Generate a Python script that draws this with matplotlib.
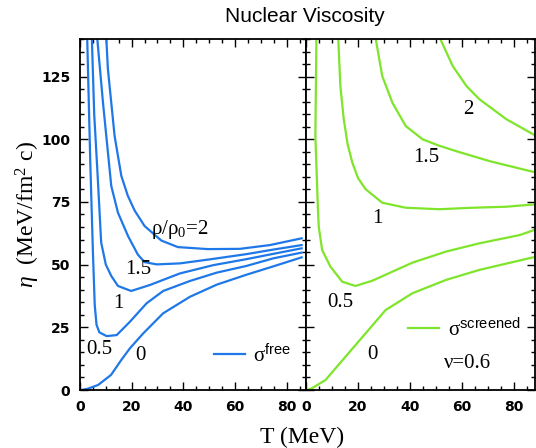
import matplotlib
matplotlib.use('Agg')
import matplotlib.pyplot as plt
from matplotlib.ticker import MultipleLocator

BLUE = '#1f78e8'
GREEN = '#7ee52a'

plt.rcParams['mathtext.fontset'] = 'custom'
plt.rcParams['mathtext.rm'] = 'Liberation Serif'
plt.rcParams['mathtext.it'] = 'Liberation Serif:italic'
plt.rcParams['mathtext.sf'] = 'Liberation Sans'

# free cross section, rho/rho0 = 0, 0.5, 1, 1.5, 2
free_T_0 = [0.5, 3, 7, 12, 16, 19.3, 24.5, 32.2, 42.6, 52.9, 64.5, 74.8, 85.8]
free_eta_0 = [0, 0.5, 2.0, 6.0, 12.0, 16.6, 22.6, 30.6, 37.2, 42.0, 46.0, 49.3, 52.9]
free_T_05 = [2.8, 4.0, 5.0, 5.7, 6.4, 7.5, 10.3, 14.2, 19.3, 25.8, 32.2, 42.6, 52.9, 64.5, 74.8, 85.8]
free_eta_05 = [140, 90, 55, 34, 26, 23, 21.5, 21.9, 27.2, 34.6, 39.5, 43.5, 46.8, 49.5, 52.5, 54.8]
free_T_1 = [4.6, 5.5, 6.7, 8.2, 10, 12.1, 14.7, 19.8, 27.1, 38.7, 51.6, 64.5, 74.8, 85.8]
free_eta_1 = [140, 110, 88, 58.8, 50, 45.5, 41.5, 39.5, 41.9, 46.5, 49.8, 52.2, 54.3, 56.5]
free_T_15 = [6.7, 8.9, 12.1, 14.7, 18.6, 22.4, 25.0, 29.7, 38.7, 51.6, 64.5, 74.8, 85.8]
free_eta_15 = [140, 114.6, 81.4, 70.7, 61.4, 54, 51, 50.1, 50.5, 52.3, 54.2, 56, 57.8]
free_T_2 = [10.2, 10.8, 13.4, 16.0, 18.5, 21.2, 25.0, 31.5, 37.9, 49.5, 61.9, 73.5, 85.8]
free_eta_2 = [140, 128, 101.3, 85.4, 77.5, 71.5, 65.4, 59.6, 57.0, 56.2, 56.3, 57.8, 60.5]

# screened cross section, nu = 0.6
scr_T_0 = [0.4, 2.3, 7.5, 15.2, 22.9, 30.6, 40.9, 53.8, 66.6, 88.5]
scr_eta_0 = [0, 0.7, 4.0, 13.3, 22.6, 31.9, 38.6, 43.9, 47.9, 53.2]
scr_T_05 = [4.0, 3.6, 4.6, 4.9, 6.2, 9.4, 13.9, 19.0, 25.5, 40.9, 53.8, 66.6, 82.1, 88.5]
scr_eta_05 = [140, 101.3, 71.8, 65.1, 55.8, 49.2, 43.2, 41.5, 43.6, 50.8, 55.2, 58.5, 61.8, 64.1]
scr_T_1 = [12.4, 13.2, 14.5, 16.0, 17.8, 20.0, 22.9, 29.3, 38.3, 51.2, 64.1, 76.9, 88.5]
scr_eta_1 = [140, 121.3, 108, 98, 90.7, 84.5, 80.1, 74.7, 72.7, 72.1, 72.7, 73.1, 74.1]
scr_T_15 = [26.8, 29.3, 33.2, 38.3, 44.8, 51, 57.6, 70.5, 88.5]
scr_eta_15 = [140, 125.2, 114.6, 105.3, 100, 97.5, 95.3, 91.3, 86.7]
scr_T_2 = [51.6, 56.4, 61.6, 66.6, 77, 88.5]
scr_eta_2 = [140, 129.2, 121.3, 116, 108, 101.3]

free_labels = ['0', '0.5', '1', '1.5', r'ρ/ρ$_0$=2']
free_label_pos = [(23.5, 13.6), (7.4, 16.0), (14.8, 34.6), (22.4, 48.1), (38.5, 64.0)]
scr_labels = ['0', '0.5', '1', '1.5', '2']
scr_label_pos = [(25.5, 14), (13.2, 34.8), (27.4, 68.5), (46.3, 92.7), (62.4, 111.7)]


def style_axis(ax, xmax, show_y):
    ax.set_xlim(0, xmax)
    ax.set_ylim(0, 140)
    ax.xaxis.set_major_locator(MultipleLocator(20))
    ax.xaxis.set_minor_locator(MultipleLocator(5))
    ax.yaxis.set_major_locator(MultipleLocator(25))
    ax.yaxis.set_minor_locator(MultipleLocator(5))
    ax.tick_params(which='both', direction='in', top=True, right=True,
                   width=1.0, labelsize=10, pad=7)
    ax.tick_params(which='major', length=6)
    ax.tick_params(which='minor', length=3)
    if not show_y:
        ax.tick_params(labelleft=False)
    for lab in ax.get_xticklabels() + ax.get_yticklabels():
        lab.set_fontweight('bold')
    for sp in ax.spines.values():
        sp.set_linewidth(1.3)


fig = plt.figure(figsize=(5.36, 4.48), dpi=100)
ax1 = fig.add_axes([80/536, 58/448, 226/536, 351/448])
ax2 = fig.add_axes([306/536, 58/448, 229/536, 351/448])

free = [(free_T_0, free_eta_0), (free_T_05, free_eta_05), (free_T_1, free_eta_1),
        (free_T_15, free_eta_15), (free_T_2, free_eta_2)]
for i, (t, e) in enumerate(free):
    ax1.plot(t, e, color=BLUE, lw=1.6, label='σ$^{\\mathsf{free}}$' if i == 0 else None)
for lab, (x, y) in zip(free_labels, free_label_pos):
    ax1.text(x, y, lab, fontsize=15, family='Liberation Serif', ha='center', va='center')

scr = [(scr_T_0, scr_eta_0), (scr_T_05, scr_eta_05), (scr_T_1, scr_eta_1),
       (scr_T_15, scr_eta_15), (scr_T_2, scr_eta_2)]
for i, (t, e) in enumerate(scr):
    ax2.plot(t, e, color=GREEN, lw=1.6, label='σ$^{\\mathsf{screened}}$' if i == 0 else None)
for lab, (x, y) in zip(scr_labels, scr_label_pos):
    ax2.text(x, y, lab, fontsize=15, family='Liberation Serif', ha='center', va='center')
ax2.text(53, 10.6, 'ν=0.6', fontsize=15, family='Liberation Serif', ha='left', va='center')

for ax in (ax1, ax2):
    ax.legend(loc='lower right', bbox_to_anchor=(1.0, 0.025) if ax is ax1 else (1.0, 0.1),
              frameon=False, prop={'family': 'Liberation Serif', 'size': 15},
              handlelength=1.5, handletextpad=0.4, borderaxespad=0.3)

style_axis(ax1, 87.5, True)
style_axis(ax2, 88, False)

fig.text(305/536, 1 - 16/448, 'Nuclear Viscosity', family='Liberation Sans',
         fontsize=15, ha='center', va='center')
fig.text(302/536, 1 - 437/448, 'T (MeV)', family='Liberation Serif',
         fontsize=17, ha='center', va='center')
fig.text(28/536, 1 - 214/448, r'$\eta$  (MeV/fm$^2$ c)', family='Liberation Serif',
         fontsize=17, ha='center', va='center', rotation=90)

fig.savefig('out.png', dpi=100)
